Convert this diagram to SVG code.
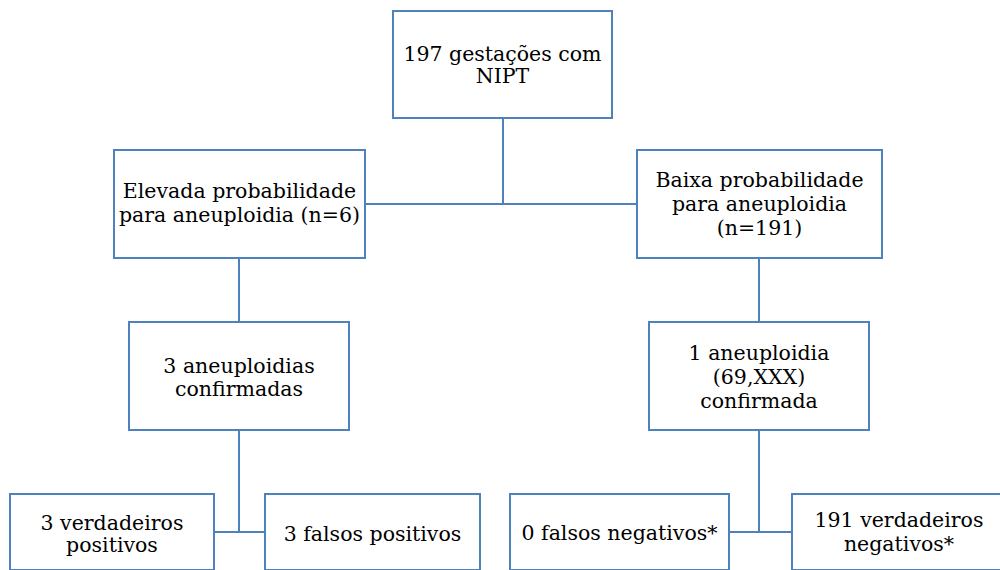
<svg xmlns="http://www.w3.org/2000/svg" width="1000" height="570" viewBox="0 0 1000 570">
  <style>
    .box { fill: #ffffff; stroke: #4f81bd; stroke-width: 2; }
    .link { fill: none; stroke: #4f81bd; stroke-width: 2; }
    text { font-family: "DejaVu Serif", "Liberation Serif", serif; font-size: 20.5px; fill: #000000; text-anchor: middle; }
  </style>
  <rect width="1000" height="570" fill="#ffffff"/>

  <!-- connectors -->
  <g id="connectors">
    <path class="link" d="M503 118 V204 M365 204 H637"/>
    <path class="link" d="M239 258 V322"/>
    <path class="link" d="M759 258 V322"/>
    <path class="link" d="M239 430 V532 M213 532 H265"/>
    <path class="link" d="M759 430 V532 M729 532 H792"/>
  </g>

  <g id="n-total">
    <rect class="box" x="393" y="11" width="219" height="107"/>
    <text x="502.5" y="61">197 gestações com</text>
    <text x="502.5" y="83">NIPT</text>
  </g>

  <g id="n-elevada">
    <rect class="box" x="114" y="150" width="251" height="108"/>
    <text x="239.5" y="198">Elevada probabilidade</text>
    <text x="239.5" y="222">para aneuploidia (n=6)</text>
  </g>

  <g id="n-baixa">
    <rect class="box" x="637" y="150" width="245" height="108"/>
    <text x="759.5" y="187">Baixa probabilidade</text>
    <text x="759.5" y="211">para aneuploidia</text>
    <text x="759.5" y="235">(n=191)</text>
  </g>

  <g id="n-3aneu">
    <rect class="box" x="129" y="322" width="220" height="108"/>
    <text x="239" y="373">3 aneuploidias</text>
    <text x="239" y="396">confirmadas</text>
  </g>

  <g id="n-1aneu">
    <rect class="box" x="649" y="322" width="220" height="108"/>
    <text x="759" y="360">1 aneuploidia</text>
    <text x="759" y="384">(69,XXX)</text>
    <text x="759" y="408">confirmada</text>
  </g>

  <g id="n-vp">
    <rect class="box" x="10" y="494" width="204" height="76"/>
    <text x="112" y="530">3 verdadeiros</text>
    <text x="112" y="552">positivos</text>
  </g>

  <g id="n-fp">
    <rect class="box" x="265" y="494" width="215" height="76"/>
    <text x="372.5" y="541">3 falsos positivos</text>
  </g>

  <g id="n-fn">
    <rect class="box" x="510" y="494" width="219" height="76"/>
    <text x="619.5" y="540">0 falsos negativos*</text>
  </g>

  <g id="n-vn">
    <rect class="box" x="792" y="494" width="215" height="76"/>
    <text x="899" y="527">191 verdadeiros</text>
    <text x="899" y="551">negativos*</text>
  </g>
</svg>
